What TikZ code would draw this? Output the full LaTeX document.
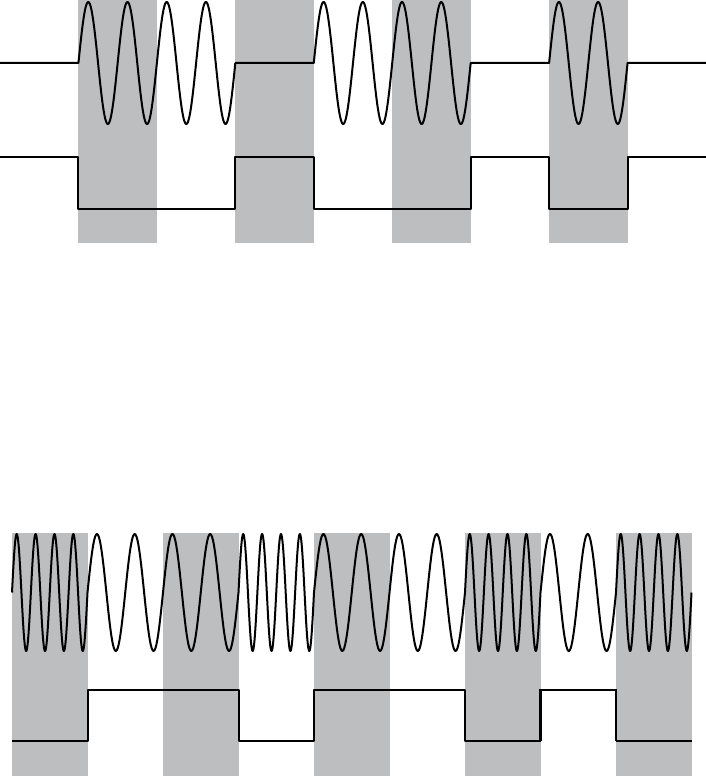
\documentclass[tikz,border=0pt]{standalone}
\definecolor{shade}{RGB}{189,190,192}
\begin{document}
\begin{tikzpicture}[x=1pt,y=-1pt,
  sig/.style={line width=2pt, line join=round},
  sigthick/.style={line width=2.8pt, line join=miter},
  band/.style={fill=shade}]
\useasboundingbox (0,0) rectangle (706,776);
% ---------- top diagram (ASK) ----------
\foreach \a/\b in {78.44/156.89, 235.33/313.78, 392.22/470.67, 549.11/627.56}
  \fill[band] (\a,0) rectangle (\b,243);
\draw[sig] (0,63) -- (78.44,63)
  -- plot[domain=78.44:235.33,samples=241] (\x,{63-61*sin(9.1785*(\x-78.44))})
  -- (313.78,63)
  -- plot[domain=313.78:470.67,samples=241] (\x,{63-61*sin(9.1785*(\x-313.78))})
  -- (549.11,63)
  -- plot[domain=549.11:627.56,samples=121] (\x,{63-61*sin(9.1785*(\x-549.11))})
  -- (706,63);
\draw[sig] (0,157) -- (78.44,157) -- (78.44,209) -- (235.33,209) -- (235.33,157)
  -- (313.78,157) -- (313.78,209) -- (470.67,209) -- (470.67,157) -- (549.11,157)
  -- (549.11,209) -- (627.56,209) -- (627.56,157) -- (706,157);
% ---------- bottom diagram (FSK) ----------
\foreach \a/\b in {12/87.5, 163/238.5, 314/389.5, 465/540.5, 616/691.5}
  \fill[band] (\a,533) rectangle (\b,776);
\draw[sig] (12,592.5)
  -- plot[domain=12:87.5,samples=161] (\x,{592.5-58.5*sin(19.0728*(\x-12))})
  -- plot[domain=87.5:238.5,samples=161] (\x,{592.5-58.5*sin(9.5364*(\x-87.5))})
  -- plot[domain=238.5:314,samples=161] (\x,{592.5-58.5*sin(19.0728*(\x-238.5))})
  -- plot[domain=314:465,samples=161] (\x,{592.5-58.5*sin(9.5364*(\x-314))})
  -- plot[domain=465:540.5,samples=161] (\x,{592.5-58.5*sin(19.0728*(\x-465))})
  -- plot[domain=540.5:616,samples=121] (\x,{592.5-58.5*sin(9.5364*(\x-540.5))})
  -- plot[domain=616:691.5,samples=161] (\x,{592.5-58.5*sin(19.0728*(\x-616))});
\draw[sig] (12,741) -- (87.5,741) -- (87.5,690) -- (238.5,690) -- (238.5,741)
  -- (314,741) -- (314,690) -- (465,690) -- (465,741) -- (540.5,741);
\draw[sigthick] (540.5,741) -- (540.5,690) -- (616,690) -- (616,741);
\draw[sig] (616,741) -- (691.5,741);
\end{tikzpicture}
\end{document}
